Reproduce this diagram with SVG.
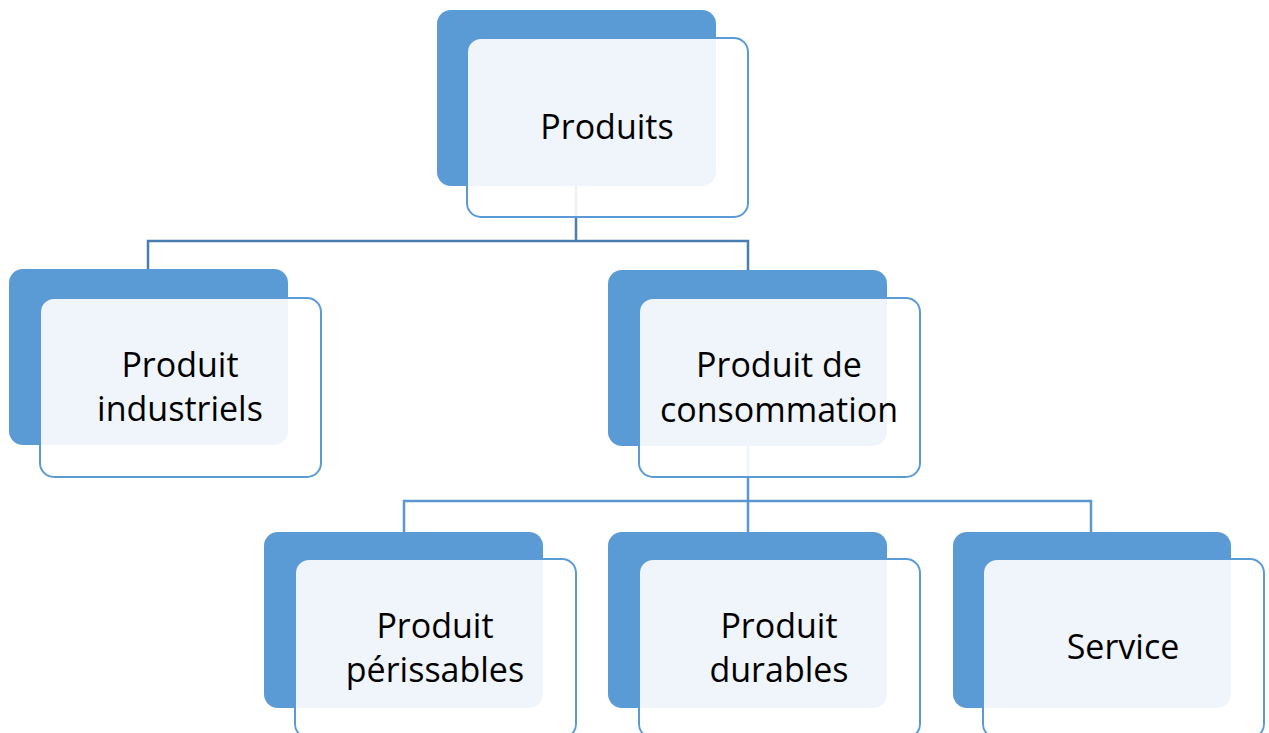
<svg xmlns="http://www.w3.org/2000/svg" width="1269" height="733" viewBox="0 0 1269 733">
<style>
.back{fill:#5B9BD5;}
.front{fill:#FFFFFF;fill-opacity:0.9;stroke:#5B9BD5;stroke-width:2;}
.lbl{font-family:"Open Sans","Liberation Sans",sans-serif;font-size:34px;fill:#000;text-anchor:middle;}
.c1{fill:none;stroke:#4A7DB0;stroke-width:2.5;}
.c2{fill:none;stroke:#5B96CF;stroke-width:2.5;}
</style>
<rect width="1269" height="733" fill="#FFFFFF"/>
<g id="connectors">
<path class="c1" d="M576 186 V241 H148 V270 M576 241 H748 V270"/>
<path class="c2" d="M748 446 V501 H404 V532 M748 501 H1091 V532 M748 501 V532"/>
</g>
<g id="node-produits">
<rect class="back" x="437" y="10" width="279" height="176" rx="14"/>
<rect class="front" x="467" y="38" width="281" height="179" rx="14"/>
<text class="lbl" x="607" y="139">Produits</text>
</g>
<g id="node-industriels">
<rect class="back" x="9" y="269" width="279" height="176" rx="14"/>
<rect class="front" x="40" y="298" width="281" height="179" rx="14"/>
<text class="lbl" x="180" y="377">Produit</text>
<text class="lbl" x="180" y="421">industriels</text>
</g>
<g id="node-consommation">
<rect class="back" x="608" y="270" width="279" height="176" rx="14"/>
<rect class="front" x="639" y="298" width="281" height="179" rx="14"/>
<text class="lbl" x="779" y="377">Produit de</text>
<text class="lbl" x="779" y="422">consommation</text>
</g>
<g id="node-perissables">
<rect class="back" x="264" y="532" width="279" height="176" rx="14"/>
<rect class="front" x="295" y="559" width="281" height="179" rx="14"/>
<text class="lbl" x="435" y="638">Produit</text>
<text class="lbl" x="435" y="682">périssables</text>
</g>
<g id="node-durables">
<rect class="back" x="608" y="532" width="279" height="176" rx="14"/>
<rect class="front" x="639" y="559" width="281" height="179" rx="14"/>
<text class="lbl" x="779" y="638">Produit</text>
<text class="lbl" x="779" y="682">durables</text>
</g>
<g id="node-service">
<rect class="back" x="953" y="532" width="278" height="176" rx="14"/>
<rect class="front" x="983" y="559" width="281" height="179" rx="14"/>
<text class="lbl" x="1123" y="659">Service</text>
</g>
</svg>
